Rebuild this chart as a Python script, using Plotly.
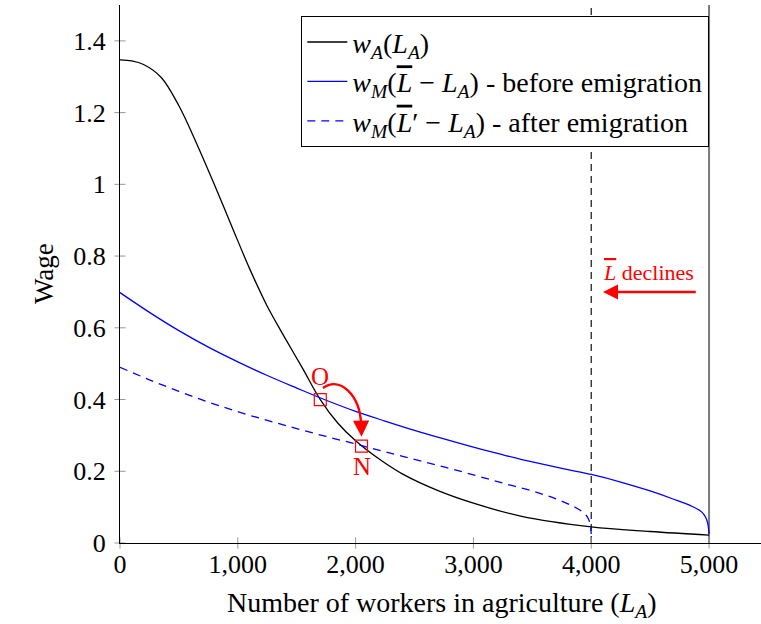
import plotly.graph_objects as go

# ---------------- data ----------------
# w_A(L_A): agricultural wage
xA = [0, 100, 200, 350, 500, 650, 800, 950, 1100, 1250, 1400, 1550, 1700, 1850,
      2000, 2200, 2400, 2700, 3000, 3400, 4000, 4500, 5000]
wA = [1.347, 1.344, 1.334, 1.298, 1.219, 1.114, 1.000, 0.882, 0.765, 0.660, 0.572,
      0.487, 0.400, 0.334, 0.285, 0.234, 0.192, 0.146, 0.111, 0.075, 0.045, 0.032, 0.022]

# w_M(Lbar - L_A): before emigration
xM = [0, 250, 500, 750, 1000, 1250, 1500, 1750, 2000, 2250, 2500, 2750, 3000, 3250,
      3500, 3750, 4000, 4250, 4500, 4700, 4850, 4925, 4960, 4980, 4992, 5000]
wM = [0.698, 0.643, 0.592, 0.546, 0.505, 0.467, 0.432, 0.398, 0.367, 0.340, 0.314,
      0.290, 0.267, 0.246, 0.226, 0.208, 0.191, 0.170, 0.145, 0.122, 0.103, 0.090,
      0.078, 0.065, 0.050, 0.025]

# w_M(Lbar' - L_A): after emigration
xM2 = [0, 250, 500, 750, 1000, 1250, 1500, 1750, 2000, 2250, 2500, 2750, 3000, 3250,
       3500, 3700, 3850, 3925, 3960, 3980, 3992, 4000]
wM2 = [0.490, 0.455, 0.423, 0.393, 0.366, 0.342, 0.319, 0.297, 0.276, 0.254, 0.233,
       0.212, 0.190, 0.167, 0.145, 0.123, 0.102, 0.087, 0.076, 0.064, 0.050, 0.025]

L_bar, L_bar_new = 5000, 4000
O_pt = (1700, 0.40)
N_pt = (2050, 0.27)

x_ticks = [0, 1000, 2000, 3000, 4000, 5000]
x_ticktext = ["0", "1,000", "2,000", "3,000", "4,000", "5,000"]
y_ticks = [0, 0.2, 0.4, 0.6, 0.8, 1.0, 1.2, 1.4]
y_ticktext = ["0", "0.2", "0.4", "0.6", "0.8", "1", "1.2", "1.4"]

FONT = "Liberation Serif, Times New Roman, DejaVu Serif, serif"
RED = "#ff0000"
BLUE = "#0000ff"

OV = "<span style='text-decoration:overline'><i>L</i></span>"
lab_A = "<i>w</i><sub><i>A</i></sub>(<i>L</i><sub><i>A</i></sub>)"
lab_M = ("<i>w</i><sub><i>M</i></sub>(" + OV + " − <i>L</i><sub><i>A</i></sub>)"
         " - before emigration")
lab_M2 = ("<i>w</i><sub><i>M</i></sub>(" + OV + "′ − <i>L</i><sub><i>A</i></sub>)"
          " - after emigration")

fig = go.Figure()

SPL = dict(shape="spline", smoothing=1.0)
fig.add_trace(go.Scatter(x=xA, y=wA, mode="lines", name=lab_A,
                         line=dict(color="black", width=1.3, **SPL)))
fig.add_trace(go.Scatter(x=xM, y=wM, mode="lines", name=lab_M,
                         line=dict(color=BLUE, width=1.3, **SPL)))
fig.add_trace(go.Scatter(x=xM2, y=wM2, mode="lines", name=lab_M2,
                         line=dict(color=BLUE, width=1.3, dash="8px,6px", **SPL)))

# tick marks crossing the axes
fig.add_trace(go.Scatter(x=x_ticks, y=[0] * len(x_ticks), mode="markers",
                         marker=dict(symbol="line-ns", size=8,
                                     line=dict(color="#999999", width=1)),
                         cliponaxis=False, showlegend=False, hoverinfo="skip"))
fig.add_trace(go.Scatter(x=[0] * len(y_ticks), y=y_ticks, mode="markers",
                         marker=dict(symbol="line-ew", size=8,
                                     line=dict(color="#999999", width=1)),
                         cliponaxis=False, showlegend=False, hoverinfo="skip"))

# equilibrium points O and N
fig.add_trace(go.Scatter(x=[O_pt[0], N_pt[0]], y=[O_pt[1], N_pt[1]], mode="markers",
                         marker=dict(symbol="square-open", size=12,
                                     line=dict(color=RED, width=1.2), color=RED),
                         cliponaxis=False, showlegend=False, hoverinfo="skip"))

# vertical lines at Lbar and Lbar'
fig.add_shape(type="line", x0=L_bar_new, x1=L_bar_new, y0=0, y1=1.5, xref="x", yref="y",
              line=dict(color="#222222", width=1.3, dash="7px,5px"), layer="below")
fig.add_shape(type="line", x0=L_bar, x1=L_bar, y0=0, y1=1.5, xref="x", yref="y",
              line=dict(color="#7a7a7a", width=2), layer="below")

# curved arrow O -> N
ox, oy = O_pt
nx, ny = N_pt
path = (f"M {ox + 23},{oy + 0.032} C {ox + 168},{oy + 0.066} "
        f"{nx - 13},{ny + 0.143} {nx - 4},{ny + 0.062}")
fig.add_shape(type="path", path=path, xref="x", yref="y",
              line=dict(color=RED, width=2.4))
fig.add_annotation(x=nx, y=ny + 0.026, ax=nx - 3, ay=ny + 0.066, xref="x", yref="y",
                   axref="x", ayref="y", showarrow=True, arrowhead=2, arrowsize=1.3,
                   arrowwidth=2.5, arrowcolor=RED, text="")

fig.add_annotation(x=ox, y=oy + 0.064, text="O", showarrow=False, xref="x", yref="y",
                   font=dict(family=FONT, size=25, color=RED))
fig.add_annotation(x=nx, y=ny - 0.057, text="N", showarrow=False, xref="x", yref="y",
                   font=dict(family=FONT, size=25, color=RED))

# Lbar declines arrow
fig.add_annotation(x=4100, y=0.70, ax=4900, ay=0.70, xref="x", yref="y",
                   axref="x", ayref="y", showarrow=True, arrowhead=2, arrowsize=1.2,
                   arrowwidth=2.5, arrowcolor=RED, text="")
fig.add_annotation(x=4482, y=0.755, text=OV + " declines", showarrow=False,
                   xref="x", yref="y", font=dict(family=FONT, size=22, color=RED))

# y axis arrow head
fig.add_annotation(x=0, y=1.505, ax=0, ay=12, xref="x", yref="y", showarrow=True,
                   arrowhead=2, arrowsize=1.2, arrowwidth=1.3, arrowcolor="black", text="")

# axis titles
fig.add_annotation(x=0.503, y=-0.115, xref="paper", yref="paper", showarrow=False,
                   text="Number of workers in agriculture (<i>L</i><sub><i>A</i></sub>)",
                   font=dict(family=FONT, size=28, color="black"), yanchor="middle")
fig.add_annotation(x=-0.145, y=0.5, xref="paper", yref="paper", showarrow=False,
                   text="Wage", textangle=-90,
                   font=dict(family=FONT, size=27, color="black"))

fig.update_layout(
    width=761, height=624,
    margin=dict(l=120, r=0, t=5, b=81),
    paper_bgcolor="white", plot_bgcolor="white",
    font=dict(family=FONT, size=26, color="black"),
    showlegend=True,
    legend=dict(x=0.2824, y=0.9796, xanchor="left", yanchor="top",
                bgcolor="white", bordercolor="black", borderwidth=1.3,
                font=dict(family=FONT, size=28, color="black"),
                itemwidth=40, tracegroupgap=0),
    xaxis=dict(range=[0, 5441], tickvals=x_ticks, ticktext=x_ticktext,
               showgrid=False, zeroline=False, showline=True, linecolor="black",
               linewidth=1.3, ticks="", ticklen=0, ticklabelstandoff=-2,
               tickfont=dict(family=FONT, size=26, color="black")),
    yaxis=dict(range=[0, 1.5], tickvals=y_ticks, ticktext=y_ticktext,
               showgrid=False, zeroline=False, showline=True, linecolor="black",
               linewidth=1.3, ticks="", ticklen=0, ticklabelstandoff=8,
               tickfont=dict(family=FONT, size=26, color="black")),
)

fig.write_html("out.html")
